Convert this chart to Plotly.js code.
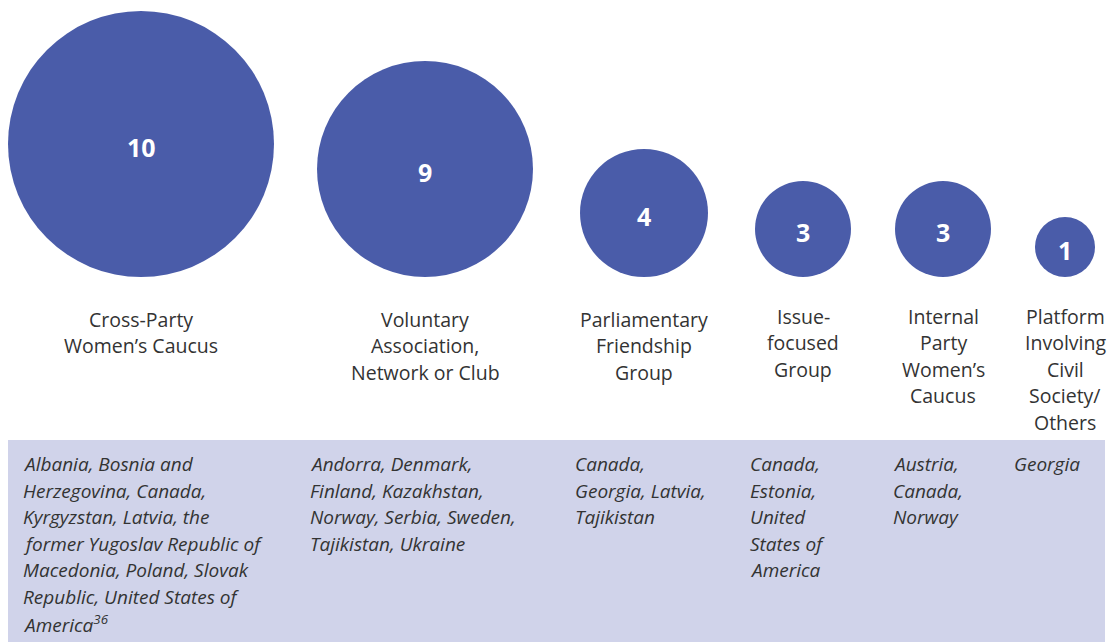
<!DOCTYPE html>
<html>
<head>
<meta charset="utf-8">
<script src="https://cdn.plot.ly/plotly-3.0.1.min.js"></script>
<style>html,body{margin:0;padding:0;background:#fff;}#chart{width:1114px;height:642px;}</style>
</head>
<body>
<div id="chart"></div>
<script>
// ---- data ----
const categories = [
  "Cross-Party<br>Women’s Caucus",
  "Voluntary<br>Association,<br>Network or Club",
  "Parliamentary<br>Friendship<br>Group",
  "Issue-<br>focused<br>Group",
  "Internal<br>Party<br>Women’s<br>Caucus",
  "Platform<br>Involving<br>Civil<br>Society/<br>Others"
];
const counts = [10, 9, 4, 3, 3, 1];
const countries = [
  "Albania, Bosnia and<br>Herzegovina, Canada,<br>Kyrgyzstan, Latvia, the<br>former Yugoslav Republic of<br>Macedonia, Poland, Slovak<br>Republic, United States of<br>America<sup>36</sup>",
  "Andorra, Denmark,<br>Finland, Kazakhstan,<br>Norway, Serbia, Sweden,<br>Tajikistan, Ukraine",
  "Canada,<br>Georgia, Latvia,<br>Tajikistan",
  "Canada,<br>Estonia,<br>United<br>States of<br>America",
  "Austria,<br>Canada,<br>Norway",
  "Georgia"
];

// ---- layout / style (pixel layout of the infographic) ----
const colCenters = [141, 425, 644, 803, 943, 1065];
const colTextLeft = [21, 308, 573, 748, 891, 1012];
const bubbleDiam = [266, 216, 128, 96, 96, 60];
const bubbleBottom = 277;
const labelTop = 319;
const boxTextTop = 464;
const lineH = 26.6;
const bubbleColor = "#4a5ca9";
const textColor = "#333333";
const FONT = "Open Sans, Noto Sans, sans-serif";

const ys = bubbleDiam.map(d => bubbleBottom - d / 2);

const trace = {
  type: "scatter",
  mode: "markers",
  x: colCenters,
  y: ys,
  marker: {size: bubbleDiam, color: bubbleColor, line: {width: 0}, opacity: 1},
  hoverinfo: "skip",
  showlegend: false,
  cliponaxis: false
};

const annotations = [];
counts.forEach((c, i) => {
  annotations.push({
    x: colCenters[i], y: ys[i] + 3, xref: "x", yref: "y",
    text: "<b>" + c + "</b>", showarrow: false,
    xanchor: "center", yanchor: "middle",
    font: {family: FONT, size: 25, color: "#ffffff"}
  });
});
categories.forEach((lab, i) => {
  lab.split("<br>").forEach((line, j) => {
    annotations.push({
      x: colCenters[i], y: labelTop - (i >= 3 ? 3 : 0) + j * lineH,
      xref: "x", yref: "y", text: line, showarrow: false,
      xanchor: "center", yanchor: "middle",
      font: {family: FONT, size: 19.5, color: textColor}
    });
  });
});
countries.forEach((txt, i) => {
  txt.split("<br>").forEach((line, j) => {
    annotations.push({
      x: colTextLeft[i], y: boxTextTop + j * lineH,
      xref: "x", yref: "y", text: "<i>" + line + "</i>", showarrow: false,
      xanchor: "left", yanchor: "middle", align: "left",
      font: {family: FONT, size: 19, color: textColor}
    });
  });
});

const layout = {
  width: 1114, height: 642,
  margin: {l: 0, r: 0, t: 0, b: 0},
  paper_bgcolor: "#ffffff", plot_bgcolor: "#ffffff",
  xaxis: {range: [0, 1114], visible: false, fixedrange: true},
  yaxis: {range: [642, 0], visible: false, fixedrange: true},
  shapes: [{
    type: "rect", xref: "x", yref: "y", x0: 8, x1: 1105, y0: 440, y1: 642,
    fillcolor: "#d0d3ea", line: {width: 0}, layer: "below"
  }],
  annotations: annotations,
  showlegend: false
};

Plotly.newPlot("chart", [trace], layout, {displayModeBar: false, staticPlot: true});
</script>
</body>
</html>
